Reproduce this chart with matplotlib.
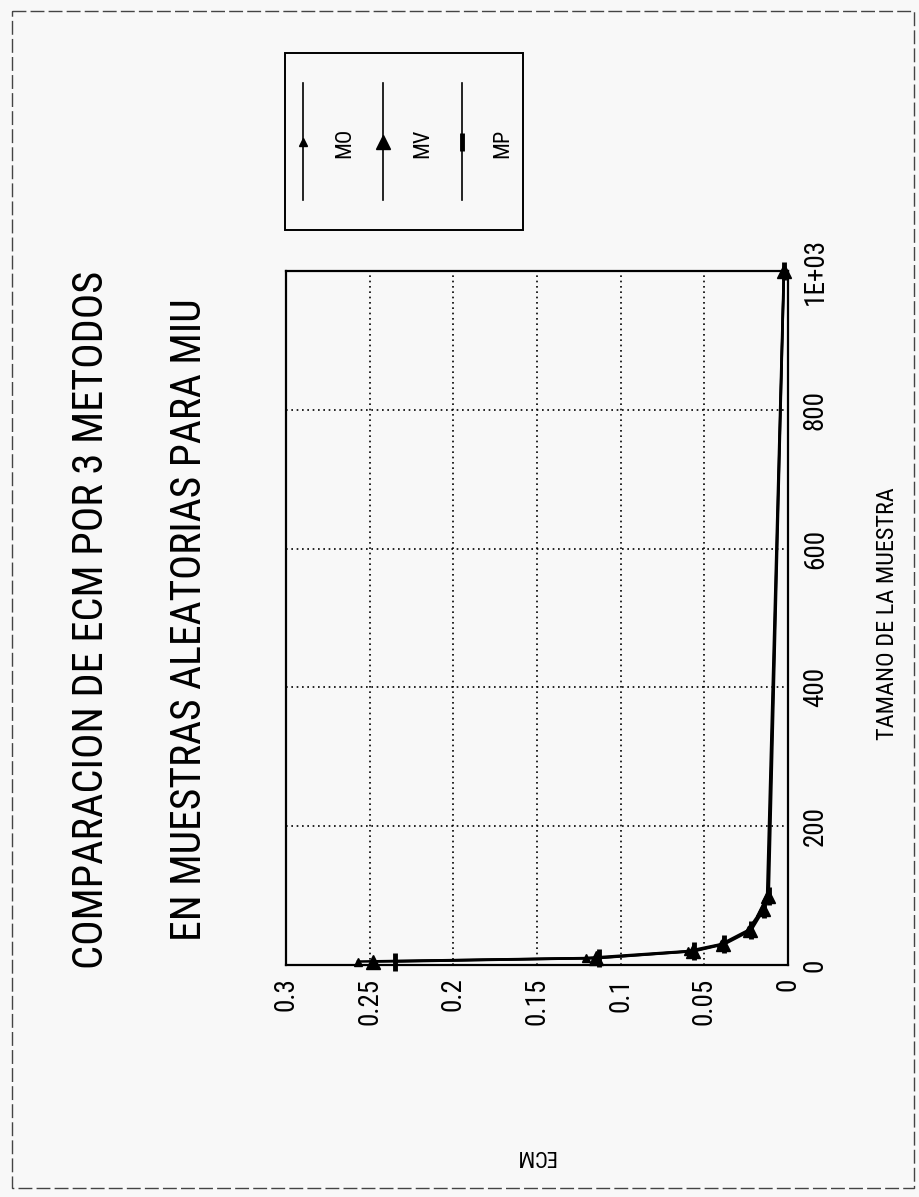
import matplotlib
matplotlib.use("Agg")
import matplotlib.pyplot as plt
from matplotlib import font_manager as fm
from matplotlib.patches import Rectangle

# ---------------- data ----------------
sample_sizes = [5, 10, 20, 30, 50, 80, 100, 1000]
ecm_mo = [0.257, 0.121, 0.060, 0.040, 0.024, 0.0155, 0.0125, 0.0025]
ecm_mv = [0.248, 0.115, 0.057, 0.039, 0.023, 0.0150, 0.0120, 0.0024]
ecm_mp = [0.235, 0.113, 0.056, 0.038, 0.022, 0.0145, 0.0115, 0.0024]
series_names = ["MO", "MV", "MP"]

ecm_ticks = [0, 0.05, 0.1, 0.15, 0.2, 0.25, 0.3]
ecm_ticklabels = ["0", "0.05", "0.1", "0.15", "0.2", "0.25", "0.3"]
n_ticks = [0, 200, 400, 600, 800, 1000]
n_ticklabels = ["0", "200", "400", "600", "800", "1E+03"]

title_1 = "COMPARACION DE ECM POR 3 METODOS"
title_2 = "EN MUESTRAS ALEATORIAS PARA MIU"
xlabel_text = "TAMANO DE LA MUESTRA"
ylabel_text = "ECM"

# ---------------- font ----------------
def pick_font(names):
    for name in names:
        try:
            fm.findfont(fm.FontProperties(family=name), fallback_to_default=False)
            return name
        except Exception:
            pass
    return "DejaVu Sans"

FONT = pick_font(["Liberation Sans Narrow", "Roboto Condensed", "Liberation Sans"])
SCALE = 1.0 if FONT in ("Liberation Sans Narrow", "Roboto Condensed") else 0.82
plt.rcParams["font.family"] = [FONT, "DejaVu Sans"]

BG = "#f8f8f8"
W, H = 919, 1197
fig = plt.figure(figsize=(W / 100, H / 100), dpi=100)
fig.patch.set_facecolor(BG)

# ---------------- main axes (page rotated 90 deg) ----------------
L, R, T, B = 286, 788, 271, 965
ax = fig.add_axes([L / W, 1 - B / H, (R - L) / W, (B - T) / H])
ax.set_facecolor(BG)

styles = {
    "MO": dict(marker="^", ms=6, mew=1),
    "MV": dict(marker="^", ms=10, mew=1),
    "MP": dict(marker="|", ms=13, mew=3.5),
}
for name, vals in zip(series_names, [ecm_mo, ecm_mv, ecm_mp]):
    ax.plot(vals, sample_sizes, color="black", lw=1.8, clip_on=False,
            mfc="black", mec="black", zorder=3, **styles[name])

ax.set_xlim(0.3, 0)
ax.set_ylim(0, 1000)
ax.set_xticks(ecm_ticks)
ax.set_xticklabels(ecm_ticklabels, rotation=90, fontsize=19.5 * SCALE)
ax.yaxis.tick_right()
ax.set_yticks(n_ticks)
ax.set_yticklabels(n_ticklabels, rotation=90, va="center", fontsize=19.5 * SCALE)
ax.tick_params(axis="both", length=0)
ax.tick_params(axis="x", pad=9)
ax.tick_params(axis="y", pad=10)
ax.grid(True, color="black", lw=1.2, linestyle=(0, (1, 2.2)))
for sp in ax.spines.values():
    sp.set_linewidth(1.6)
    sp.set_color("black")

# ---------------- overlay in pixel coordinates ----------------
ov = fig.add_axes([0, 0, 1, 1])
ov.set_xlim(0, W)
ov.set_ylim(H, 0)
ov.axis("off")
ov.patch.set_alpha(0)

# dashed page frame
ov.add_patch(Rectangle((12, 11), 902, 1177, fill=False, lw=1.0,
                       edgecolor="#444444", linestyle=(0, (10, 3))))

# titles (rotated)
ov.text(92, 620, title_1, rotation=90, ha="center", va="center",
        fontsize=30.5 * SCALE)
ov.text(190, 620, title_2, rotation=90, ha="center", va="center",
        fontsize=30 * SCALE)

# axis labels
ov.text(888, 614, xlabel_text, rotation=90, ha="center", va="center",
        fontsize=17.5 * SCALE)
ov.text(535, 1155, ylabel_text, rotation=180, ha="center", va="center",
        fontsize=16 * SCALE)

# legend
ov.add_patch(Rectangle((285, 53), 238, 177, fill=False, lw=1.4, edgecolor="black"))
leg_line_x = [303, 383, 462]
leg_text_x = [345, 423, 503]
for name, lx, tx in zip(series_names, leg_line_x, leg_text_x):
    ov.plot([lx, lx], [83, 200], color="black", lw=1.2)
    ov.plot([lx], [142], color="black", mfc="black", mec="black", **styles[name])
    ov.text(tx, 143, name, rotation=90, ha="center", va="center",
            fontsize=16 * SCALE)

fig.savefig("out.png", dpi=100, facecolor=BG)
